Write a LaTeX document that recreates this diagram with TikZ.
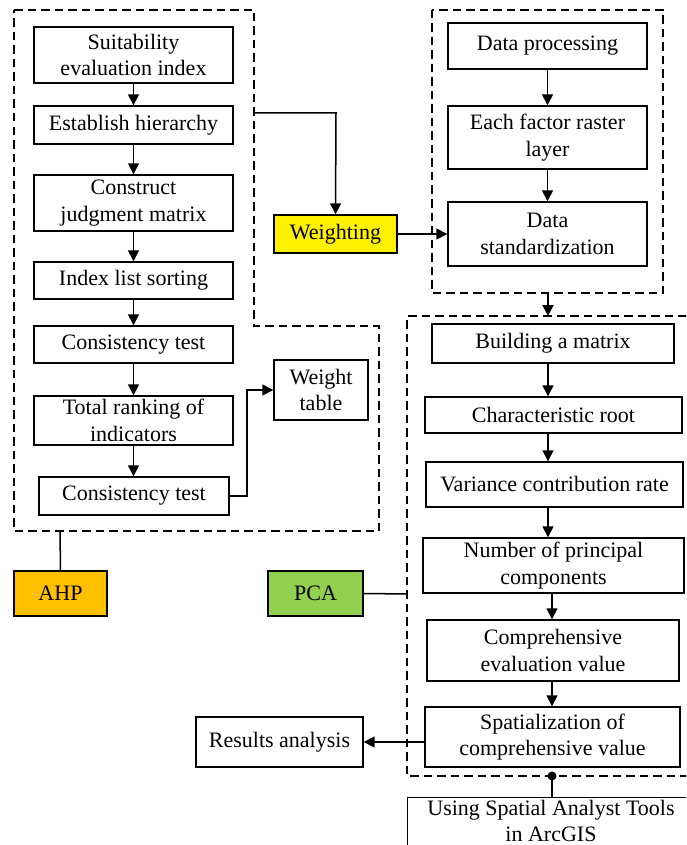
\documentclass[tikz,border=0pt]{standalone}
\usepackage{fontspec}
\setmainfont{Liberation Serif}
\usetikzlibrary{arrows.meta}
\begin{document}
\begin{tikzpicture}[x=1pt,y=-1pt,
  box/.style={draw,line width=1.4pt,inner sep=0pt,align=center,font=\fontsize{22}{26.5}\selectfont},
  grp/.style={draw,line width=1.5pt,dash pattern=on 8.5pt off 5pt},
  arr/.style={line width=1.5pt,-{Triangle[length=11pt,width=11pt]}},
  ln/.style={line width=1.5pt}]
\useasboundingbox (0,0) rectangle (686,845);
\begin{scope}
\clip (0,0) rectangle (686,845);
% group regions
\draw[grp] (14,10) -- (254,10) -- (254,326) -- (379,326) -- (379,531) -- (14,531) -- cycle;
\draw[grp] (432,10) rectangle (663,293);
\draw[grp] (700,316) -- (407,316) -- (407,776) -- (700,776);
% left column
\node[box,minimum width=199pt,minimum height=56pt] (s1) at (133.5,55) {Suitability\\evaluation index};
\node[box,minimum width=199pt,minimum height=38pt] (s2) at (133.5,125) {Establish hierarchy};
\node[box,minimum width=199pt,minimum height=56pt] (s3) at (133.5,203) {Construct\\judgment matrix};
\node[box,minimum width=199pt,minimum height=37pt] (s4) at (133.5,280.5) {Index list sorting};
\node[box,minimum width=199pt,minimum height=37pt] (s5) at (133.5,344.5) {Consistency test};
\node[box,minimum width=199pt,minimum height=49pt] (s6) at (133.5,420.5) {Total ranking of\\indicators};
\node[box,minimum width=190pt,minimum height=38pt] (s7) at (134,496) {Consistency test};
\node[box,minimum width=94pt,minimum height=60pt] (wt) at (321,390) {Weight\\table};
\node[box,minimum width=123pt,minimum height=38pt,fill=yellow] (w) at (335.5,234) {Weighting};
% right top
\node[box,minimum width=199pt,minimum height=46pt] (d1) at (547.5,46) {Data processing};
\node[box,minimum width=199pt,minimum height=63pt] (d2) at (547.5,137.5) {Each factor raster\\layer};
\node[box,minimum width=199pt,minimum height=64pt] (d3) at (547.5,234) {Data\\standardization};
% PCA column
\node[box,minimum width=242pt,minimum height=39pt] (p1) at (553,343.5) {Building a matrix};
\node[box,minimum width=257pt,minimum height=36pt] (p2) at (553.5,415) {Characteristic root};
\node[box,minimum width=257pt,minimum height=45pt] (p3) at (554.5,484.5) {Variance contribution rate};
\node[box,minimum width=261pt,minimum height=55pt] (p4) at (553.5,565.5) {Number of principal\\components};
\node[box,minimum width=252pt,minimum height=61pt] (p5) at (553,650.5) {Comprehensive\\evaluation value};
\node[box,minimum width=255pt,minimum height=60pt] (p6) at (552.5,737) {Spatialization of\\comprehensive value};
\node[box,minimum width=167pt,minimum height=50pt] (ra) at (279.5,742) {Results analysis};
\node[box,minimum width=93pt,minimum height=45pt,fill={rgb,255:red,255;green,192;blue,0}] (ahp) at (60.5,593.5) {AHP};
\node[box,minimum width=95pt,minimum height=45pt,fill={rgb,255:red,146;green,208;blue,80}] (pca) at (315.5,593.5) {PCA};
\node[box,anchor=north west,minimum width=300pt,minimum height=70pt] (arc) at (407,797) {};
\node[font=\fontsize{22}{26.5}\selectfont,align=center] (arct) at (551,821) {Using Spatial Analyst Tools\\in ArcGIS};
% coordinates
\coordinate (c1) at (254,113);
\coordinate (c2) at (548,293);
\coordinate (c3) at (548,316);
\coordinate (c4) at (60,531);
\coordinate (c5) at (407,594);
\coordinate (c6) at (552,776);
\coordinate (colA) at (548,0);
\coordinate (colB) at (552,0);
% arrows
\draw[arr] (s1) -- (s2);
\draw[arr] (s2) -- (s3);
\draw[arr] (s3) -- (s4);
\draw[arr] (s4) -- (s5);
\draw[arr] (s5) -- (s6);
\draw[arr] (s6.south) -- (s6.south |- s7.north);
\draw[arr] (s7.east) -- (247,496) -- (247,390) -- (wt.west);
\draw[arr] (c1) -- (336,113) -- (w.north);
\draw[arr] (w.east) -- (d3.west);
\draw[arr] (d1) -- (d2);
\draw[arr] (d2) -- (d3);
\draw[arr] (c2) -- (c3);
\draw[arr] (p1.south -| colA) -- (p2.north -| colA);
\draw[arr] (p2.south -| colA) -- (p3.north -| colA);
\draw[arr] (p3.south -| colA) -- (p4.north -| colA);
\draw[arr] (p4.south -| colB) -- (p5.north -| colB);
\draw[arr] (p5.south -| colB) -- (p6.north -| colB);
\draw[arr] (p6.west |- ra.east) -- (ra.east);
\draw[ln] (ahp.north) -- (c4);
\draw[ln] (pca.east) -- (c5);
\draw[ln] (c6) -- (arc.north -| c6);
\fill (c6) circle (4.5pt);
\end{scope}
\end{tikzpicture}
\end{document}
